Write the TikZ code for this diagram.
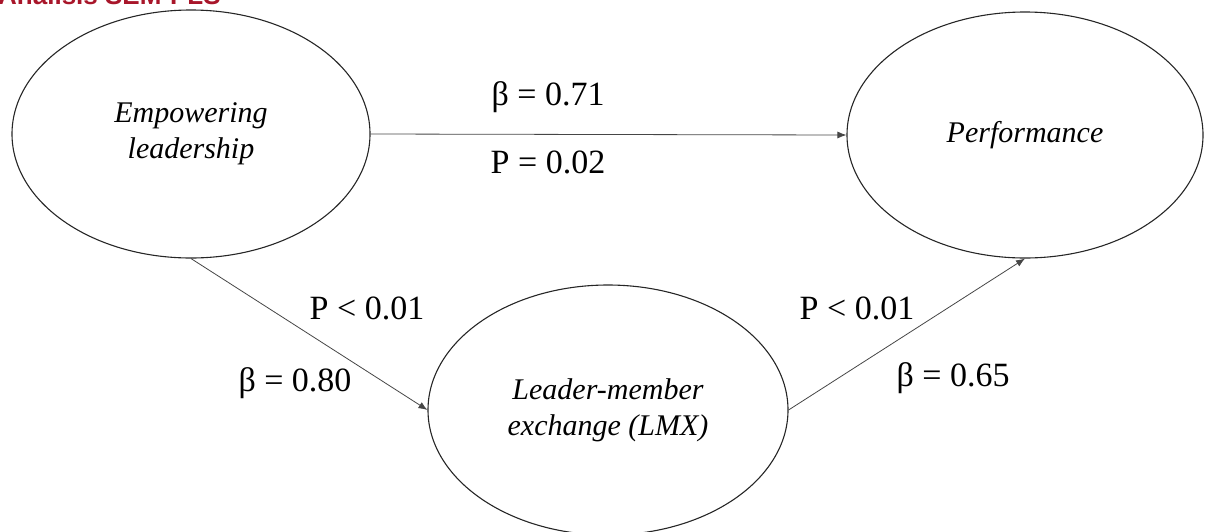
\documentclass[tikz,border=0pt]{standalone}
\usepackage{fontspec}
\setmainfont{Liberation Serif}
\newfontfamily\headfont{Liberation Sans}
\usetikzlibrary{shapes.geometric,arrows.meta}
\definecolor{headred}{RGB}{168,22,42}
\definecolor{linegray}{RGB}{70,70,70}
\tikzset{
  latent/.style={ellipse,draw=black!85,line width=1.1pt,inner sep=0pt,align=center,
    font=\fontsize{30}{36}\selectfont\itshape},
  path/.style={draw=linegray,line width=0.8pt,-{Latex[length=9pt,width=7pt]}},
  coef/.style={font=\fontsize{34}{38}\selectfont,inner sep=0pt}
}
\begin{document}
\begin{tikzpicture}[x=1pt,y=-1pt]
\useasboundingbox (0,0) rectangle (1205,531);
\clip (0,0) rectangle (1205,531);
\node[anchor=base west,text=headred,inner sep=0pt,font=\headfont\bfseries\fontsize{26}{30}\selectfont] (head) at (-2,4) {Analisis SEM-PLS};
\node[latent,minimum width=358pt,minimum height=248pt] (emp) at (191,134) {Empowering\\leadership};
\node[latent,minimum width=356pt,minimum height=246pt] (perf) at (1025,135) {Performance};
\node[latent,minimum width=360pt,minimum height=250pt] (lmx) at (608,410) {Leader-member\\exchange (LMX)};
\draw[path] (emp.east) -- (perf.west);
\draw[path] (emp.south) -- (lmx.west);
\draw[path] (lmx.east) -- (perf.south);
\node[coef] (b1) at (548,97) {β = 0.71};
\node[coef] (p1) at (548,162) {P = 0.02};
\node[coef] (p2) at (367,308) {P < 0.01};
\node[coef] (b2) at (295,383) {β = 0.80};
\node[coef] (p3) at (857,308) {P < 0.01};
\node[coef] (b3) at (953,378) {β = 0.65};
\end{tikzpicture}
\end{document}
